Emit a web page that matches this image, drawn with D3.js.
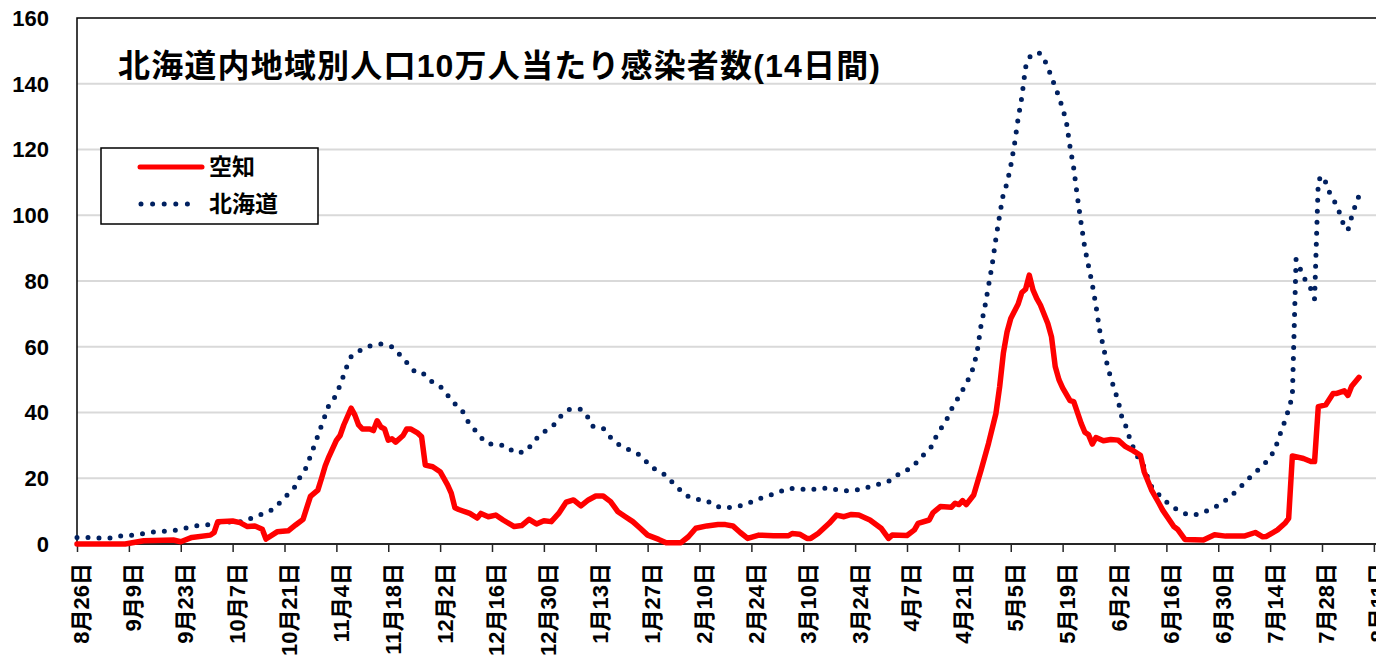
<!DOCTYPE html>
<html>
<head>
<meta charset="utf-8">
<script src="https://cdn.jsdelivr.net/npm/d3@7"></script>
<style>
  html, body { margin: 0; padding: 0; background: #fff; overflow: hidden; }
  svg { display: block; font-family: "Liberation Sans", Arial, "Noto Sans CJK JP", sans-serif; font-weight: bold; }
</style>
</head>
<body>
<svg id="chart" width="1376" height="662"></svg>
<script>
// days counted from 2020-08-26 (14-day rolling, per 100k population)
const titleText = '北海道内地域別人口10万人当たり感染者数(14日間)';
const seriesNames = ['空知', '北海道'];

const sorachiDays = [0,13,18,26,28,31,36,37,38,42,44,46,48,50,51,54,57,59,61,63,65,66,67,68,70,71,72,74,75,76,77,79,80,81,82,83,84,85,86,88,89,90,92,93,94,96,98,100,101,102,103,106,108,109,111,113,115,118,120,122,124,126,128,130,132,134,136,138,140,142,144,146,148,150,152,154,157,159,163,165,167,170,173,175,177,179,181,184,188,192,193,195,197,198,200,203,205,207,209,211,214,217,219,220,224,226,227,230,231,233,236,237,238,239,240,242,244,246,248,249,250,251,252,254,255,256,257,258,259,260,262,263,264,265,266,268,269,271,272,273,274,275,277,279,281,283,285,287,288,290,292,293,296,297,299,304,307,310,315,318,320,321,324,326,327,328,331,333,334,335,337,339,340,342,343,344,346];
const sorachiValues = [0,0,1,1.2,0.7,2,2.7,3.5,6.8,7,6.5,5.3,5.5,4.5,1.5,3.7,4,5.8,7.5,14.5,16.4,20,23.8,26.6,31.5,33,36.2,41.3,39.2,36.2,35,35,34.5,37.5,35.6,35,31.6,32,31,33,35,35,33.7,32.6,24,23.5,22,18,15.5,11,10.5,9.3,7.9,9.3,8.3,8.8,7.3,5.3,5.6,7.5,6.1,7.1,6.8,9.3,12.7,13.4,11.6,13.4,14.6,14.6,12.9,9.8,8.3,6.8,4.8,2.7,1.4,0.4,0.4,2.2,4.8,5.5,5.9,5.9,5.5,3.5,1.7,2.7,2.5,2.5,3.2,3,1.7,1.7,3.2,6.3,8.8,8.3,9,8.8,7.3,4.8,1.7,2.7,2.6,4.3,6.3,7.3,9.5,11.4,11.2,12.4,12,13.2,12,14.9,22.5,30.6,39.7,47.8,58,64.5,68.6,73,76.5,77.5,81.8,77.3,74.7,72.7,67.1,63,54,50,47.5,43.6,43.3,36.7,34,33.2,30.4,32.4,31.4,31.8,31.6,29.6,28.4,27,22,16.4,12.4,10.3,5.3,4.5,1.4,1.2,2.8,2.4,2.4,3.5,2.2,2.3,4.3,6.3,7.8,26.8,26,25.1,25.1,41.8,42.3,45.8,45.8,46.6,45.2,48,50.7];

const hokkaidoDays = [0,3,6,10,12,15,18,21,24,27,30,33,36,39,42,45,47,50,53,55,57,59,60,62,63,64,65,66,67,68,70,71,72,73,74,77,79,82,85,87,89,91,93,95,98,100,102,104,105,107,109,111,113,116,118,121,123,125,127,129,131,133,136,138,139,142,144,146,148,151,153,155,158,160,162,164,167,170,172,175,178,181,183,186,189,192,195,197,200,203,206,209,212,215,217,220,222,225,227,229,231,232,234,235,236,238,239,241,242,243,244,245,246,247,248,249,250,251,252,253,254,255,256,257,258,259,260,261,262,263,264,265,266,267,268,269,270,271,272,273,274,275,276,277,278,279,280,281,282,283,284,285,286,287,288,289,290,292,294,297,300,303,305,308,310,313,315,317,319,321,323,324,325,326,327,328,329,330,331,332,333,334,335,336,337,338,339,340,341,342,343,344,345,346];
const hokkaidoValues = [2,2,1.8,1.8,2.5,2.7,3.2,3.7,3.9,4.2,5,5.7,5.9,6.8,6.6,6.8,7.8,9.1,10.6,12.9,15.2,17.6,20,23.5,26.8,29.8,32.9,36.1,39.2,42.3,45.3,48.4,51.4,54.6,57,59.3,60.2,60.8,60,57.7,55.2,52.6,52.4,49.9,48,45.3,42.6,40.5,38,35.2,32.4,30.4,30.4,29.8,27.8,28,30.6,33.4,34.7,36.5,39.5,41,41,38.4,35.9,35.2,32.4,30.4,29.1,27.8,25.9,23.3,21.7,19.5,17.3,14.9,13.6,13.2,11.6,10.9,11.4,12.2,13.4,14.4,15.6,16.9,16.9,16.4,16.8,17.1,16.2,16.2,16.7,17.9,18.3,19.5,21.5,23,25.3,27.8,30.1,33.2,36.5,38.5,41,44.8,46.8,51,54,59,66.6,72,78.5,85,93,100,106.5,109.7,115,121.5,129.5,136,145,148,149.2,149.5,149.2,147.5,145,142,139,136,132.5,128.5,120.8,114.3,105.5,97.5,90,84.5,79,72.5,65,60,54.7,50.5,47,43.5,38.5,36,32.5,29.5,27,25,23.5,20,17.5,15,12.8,10.3,8.8,9.1,10.1,11.7,13.3,16.2,18.5,20.8,22.8,25,28.1,31.1,34.4,37.5,41,45,86.6,84,81.5,79,77.6,74.5,110.5,112,110,107,105,102.8,100,96.5,95.5,99.5,103,106];

const yTicks = [0, 20, 40, 60, 80, 100, 120, 140, 160];
const xTickLabels = ['8月26日','9月9日','9月23日','10月7日','10月21日','11月4日','11月18日','12月2日','12月16日','12月30日','1月13日','1月27日','2月10日','2月24日','3月10日','3月24日','4月7日','4月21日','5月5日','5月19日','6月2日','6月16日','6月30日','7月14日','7月28日','8月11日'];

const W = 1376, H = 662;
const plotLeft = 77, plotTop = 18, plotBottom = 544;

const start = new Date(2020, 7, 26);
const toDate = d => d3.timeDay.offset(start, d);

const svg = d3.select('#chart');

// tick at 7/28 (day 336) sits at x=1322, scale extrapolates past it
const x = d3.scaleTime().domain([start, toDate(336)]).range([plotLeft, 1322]);
const y = d3.scaleLinear().domain([0, 160]).range([plotBottom, plotTop]);

// gridlines
svg.append('g')
  .selectAll('line')
  .data(yTicks.filter(t => t > 0 && t < 160))
  .enter()
  .append('line')
  .attr('x1', plotLeft).attr('x2', W)
  .attr('y1', d => y(d)).attr('y2', d => y(d))
  .attr('stroke', '#d9d9d9')
  .attr('stroke-width', 2);

// plot frame (right edge is off the page)
svg.append('path')
  .attr('d', `M${W + 5},${plotTop}H${plotLeft}V${plotBottom}`)
  .attr('fill', 'none')
  .attr('stroke', '#000')
  .attr('stroke-width', 1.5);

// y labels
svg.append('g')
  .selectAll('text')
  .data(yTicks)
  .enter()
  .append('text')
  .attr('x', 49)
  .attr('y', d => y(d))
  .attr('dy', '0.36em')
  .attr('text-anchor', 'end')
  .attr('font-size', 22)
  .attr('fill', '#000')
  .text(d => d);

// x axis
const tickDates = xTickLabels.map((_, i) => toDate(i * 14));
const xAxis = svg.append('g')
  .attr('transform', `translate(0,${plotBottom})`)
  .call(d3.axisBottom(x)
    .tickValues(tickDates)
    .tickFormat((d, i) => xTickLabels[i])
    .tickSize(8)
    .tickSizeOuter(0));

xAxis.select('.domain')
  .attr('d', `M${plotLeft},0H${W + 5}`)
  .attr('stroke', '#262626')
  .attr('stroke-width', 2);
xAxis.selectAll('.tick line').attr('stroke', '#262626').attr('stroke-width', 1.5);
xAxis.selectAll('.tick text')
  .attr('transform', 'rotate(-90)')
  .attr('x', -19)
  .attr('y', 4)
  .attr('dy', '0.36em')
  .attr('text-anchor', 'end')
  .attr('font-size', 22)
  .attr('font-weight', 'bold')
  .attr('font-family', '"Liberation Sans", Arial, "Noto Sans CJK JP", sans-serif')
  .attr('fill', '#000');

// series
const line = d3.line()
  .x(d => x(toDate(d[0])))
  .y(d => y(d[1]));

svg.append('path')
  .datum(d3.zip(hokkaidoDays, hokkaidoValues))
  .attr('d', line)
  .attr('fill', 'none')
  .attr('stroke', '#002060')
  .attr('stroke-width', 5)
  .attr('stroke-linecap', 'round')
  .attr('stroke-dasharray', '0 11');

svg.append('path')
  .datum(d3.zip(sorachiDays, sorachiValues))
  .attr('d', line)
  .attr('fill', 'none')
  .attr('stroke', '#ff0000')
  .attr('stroke-width', 5.5)
  .attr('stroke-linejoin', 'round')
  .attr('stroke-linecap', 'round');

// title
svg.append('text')
  .attr('x', 118)
  .attr('y', 77)
  .attr('font-size', 32)
  .attr('textLength', 762)
  .attr('lengthAdjust', 'spacing')
  .attr('fill', '#000')
  .text(titleText);

// legend
const legend = svg.append('g');
legend.append('rect')
  .attr('x', 101).attr('y', 148)
  .attr('width', 217).attr('height', 76)
  .attr('fill', '#fff')
  .attr('stroke', '#000')
  .attr('stroke-width', 1.5);

legend.append('line')
  .attr('x1', 140).attr('x2', 202)
  .attr('y1', 167).attr('y2', 167)
  .attr('stroke', '#ff0000')
  .attr('stroke-width', 5)
  .attr('stroke-linecap', 'round');

legend.append('line')
  .attr('x1', 141).attr('x2', 199)
  .attr('y1', 204).attr('y2', 204)
  .attr('stroke', '#002060')
  .attr('stroke-width', 5)
  .attr('stroke-linecap', 'round')
  .attr('stroke-dasharray', '0 11.6');

legend.selectAll('text.lbl')
  .data(seriesNames)
  .enter()
  .append('text')
  .attr('class', 'lbl')
  .attr('x', 209)
  .attr('y', (d, i) => i === 0 ? 167 : 204)
  .attr('dy', '0.36em')
  .attr('font-size', 23)
  .attr('fill', '#000')
  .text(d => d);
</script>
</body>
</html>
